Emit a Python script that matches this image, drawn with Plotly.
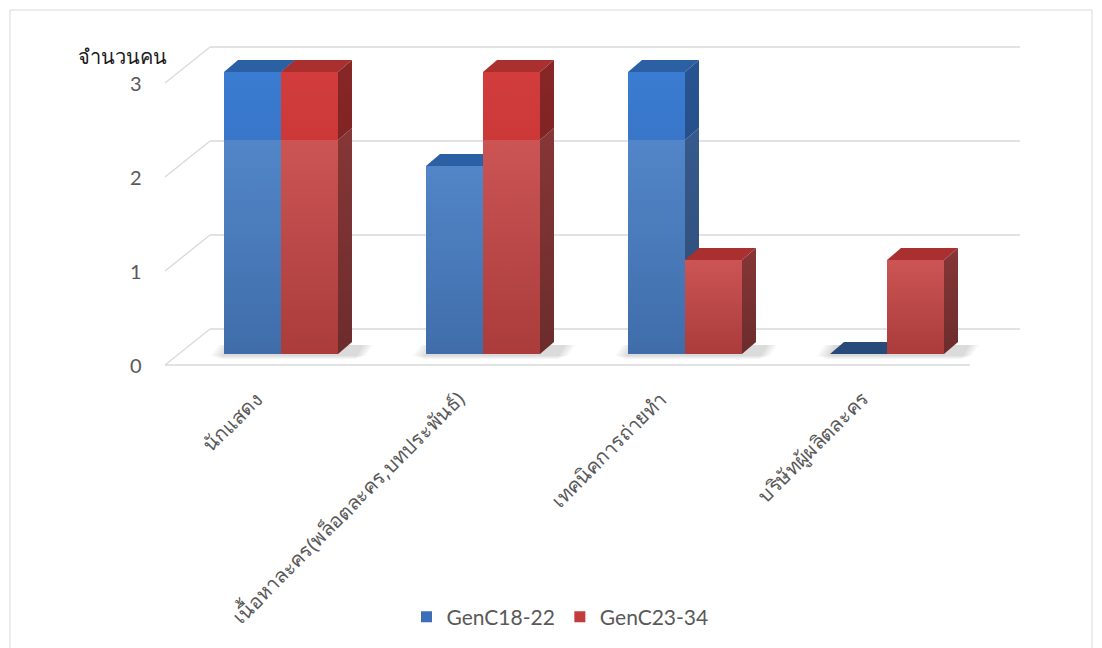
import plotly.graph_objects as go

# ---------------- data ----------------
categories = ["นักแสดง", "เนื้อหาละคร(พล็อตละคร,บทประพันธ์)", "เทคนิคการถ่ายทำ", "บริษัทผู้ผลิตละคร"]
series_names = ["GenC18-22", "GenC23-34"]
genc18_22 = [3, 2, 3, 0]
genc23_34 = [3, 3, 1, 1]
y_ticks = [0, 1, 2, 3]
y_title = "จำนวนคน"

# ---------------- geometry (pixel scale of the layout) ----------------
W, H = 1102, 648
PXX = 202.0   # px per category step
PXY = 94.0    # px per value unit
X0PX = 281.0  # px position of first category centre
Y0PX = 354.0  # px position of value 0 at the bar base


def xu(px):
    return (px - X0PX) / PXX


def yu(py):
    return (Y0PX - py) / PXY


def dx(px):
    return px / PXX


def dy(px):
    return px / PXY


BAR_W = dx(57)
BAR_DX = dx(14)
BAR_DY = dy(12)
GLARE_Y = yu(140)      # level where the glossy upper shading ends

FRONT_Y = -dy(11)      # front plane offset of the axis grid
BACK_Y = dy(25)        # back wall offset
FRONT_XL = xu(165)
BACK_XL = xu(210)
BACK_XR = xu(1020)
FRONT_XR = xu(970)

styles = {
    "GenC18-22": dict(front_lo=("rgb(64,109,170)", "rgb(82,134,200)"),
                      front_hi=("rgb(56,118,200)", "rgb(58,124,210)"),
                      side_lo=("rgb(46,76,118)", "rgb(54,90,140)"),
                      side_hi=("rgb(38,80,138)", "rgb(40,84,145)"),
                      top="rgb(44,96,164)", zero="rgb(40,74,122)", legend="rgb(58,110,185)"),
    "GenC23-34": dict(front_lo=("rgb(170,60,60)", "rgb(204,84,84)"),
                      front_hi=("rgb(204,56,56)", "rgb(210,60,60)"),
                      side_lo=("rgb(108,44,44)", "rgb(134,54,54)"),
                      side_hi=("rgb(128,36,36)", "rgb(136,38,38)"),
                      top="rgb(170,48,48)", zero="rgb(140,40,40)", legend="rgb(195,60,60)"),
}

fig = go.Figure()

# grid lines (back wall + left diagonals + front floor edge)
gx, gy = [], []
for t in y_ticks:
    gx += [BACK_XL, BACK_XR, None]
    gy += [t + BACK_Y, t + BACK_Y, None]
    gx += [FRONT_XL, BACK_XL, None]
    gy += [t + FRONT_Y, t + BACK_Y, None]
gx += [FRONT_XL, FRONT_XR, None]
gy += [FRONT_Y, FRONT_Y, None]
fig.add_trace(go.Scatter(x=gx, y=gy, mode="lines", line=dict(color="#d9d9d9", width=1.3),
                         hoverinfo="skip", showlegend=False))

# soft floor shadows
for i in range(len(categories)):
    x0 = i - BAR_W - dx(14)
    x1 = i + BAR_W + BAR_DX + dx(14)
    for k in range(4):
        g = dx(10 - 3 * k)
        fig.add_trace(go.Scatter(
            x=[x0 + g, x1 - g, x1 - g + dx(8), x0 + g + dx(8), x0 + g],
            y=[-dy(5) + dy(k), -dy(5) + dy(k), dy(9), dy(9), -dy(5) + dy(k)],
            fill="toself", mode="none", fillcolor="rgba(0,0,0,0.035)",
            hoverinfo="skip", showlegend=False))


def face(xs, ys, cols):
    return go.Scatter(x=xs, y=ys, fill="toself", mode="none",
                      fillgradient=dict(type="vertical",
                                        colorscale=[[0, cols[0]], [1, cols[1]]]),
                      hoverinfo="skip", showlegend=False)


# 3-D bars
series_vals = [genc18_22, genc23_34]
for i in range(len(categories)):
    for s, name in enumerate(series_names):
        v = series_vals[s][i]
        st = styles[name]
        x0 = i - BAR_W + s * BAR_W
        x1 = x0 + BAR_W
        if v > 0:
            lo = min(v, GLARE_Y)
            fig.add_trace(face([x0, x1, x1, x0, x0], [0, 0, lo, lo, 0], st["front_lo"]))
            if v > GLARE_Y:
                fig.add_trace(face([x0, x1, x1, x0, x0], [lo, lo, v, v, lo], st["front_hi"]))
        fig.add_trace(go.Scatter(
            x=[x0, x1, x1 + BAR_DX, x0 + BAR_DX, x0],
            y=[v, v, v + BAR_DY, v + BAR_DY, v],
            fill="toself", mode="none", fillcolor=st["top"] if v > 0 else st["zero"],
            hoverinfo="skip", showlegend=False))
        if v > 0:
            lo = min(v, GLARE_Y)
            fig.add_trace(face([x1, x1 + BAR_DX, x1 + BAR_DX, x1, x1],
                               [0, BAR_DY, lo + BAR_DY, lo, 0], st["side_lo"]))
            if v > GLARE_Y:
                fig.add_trace(face([x1, x1 + BAR_DX, x1 + BAR_DX, x1, x1],
                                   [lo, lo + BAR_DY, v + BAR_DY, v, lo], st["side_hi"]))

# legend entries
for name in series_names:
    fig.add_trace(go.Scatter(x=[None], y=[None], mode="markers", name=name,
                             marker=dict(symbol="square", size=11, color=styles[name]["legend"],
                                         line=dict(width=0))))

annotations = []
for t in y_ticks:
    annotations.append(dict(x=xu(144), y=t + FRONT_Y, xref="x", yref="y", text=str(t),
                            showarrow=False, xanchor="right", yanchor="middle",
                            font=dict(size=20, color="#595959", family="Lato, Noto Sans")))
annotations.append(dict(x=xu(76), y=yu(56), xref="x", yref="y", text=y_title, showarrow=False,
                        xanchor="left", yanchor="middle",
                        font=dict(size=20, color="#1a1a1a", family="Noto Sans, DejaVu Sans")))
for i, c in enumerate(categories):
    annotations.append(dict(x=i - dx(10), y=yu(383), xref="x", yref="y", text=c,
                            showarrow=False, textangle=-45, xanchor="right", yanchor="top",
                            font=dict(size=20, color="#595959", family="Noto Sans, DejaVu Sans")))

shapes = [
    dict(type="rect", xref="paper", yref="paper", x0=10 / W, x1=1092 / W, y0=-0.05,
         y1=1 - 10 / H, line=dict(color="#d9d9d9", width=1), fillcolor="rgba(0,0,0,0)",
         layer="below"),
]

fig.update_layout(
    width=W, height=H, autosize=False,
    margin=dict(l=0, r=0, t=0, b=0),
    paper_bgcolor="white", plot_bgcolor="white",
    xaxis=dict(range=[xu(0), xu(W)], visible=False, fixedrange=True),
    yaxis=dict(range=[yu(H), yu(0)], visible=False, fixedrange=True),
    showlegend=True,
    legend=dict(orientation="h", x=560 / W, xanchor="center", y=1 - 617 / H, yanchor="middle",
                font=dict(size=21, color="#595959", family="Lato, Noto Sans"),
                itemwidth=30, tracegroupgap=0, bgcolor="rgba(0,0,0,0)"),
    annotations=annotations,
    shapes=shapes,
    hovermode=False,
)

fig.write_html("out.html")
